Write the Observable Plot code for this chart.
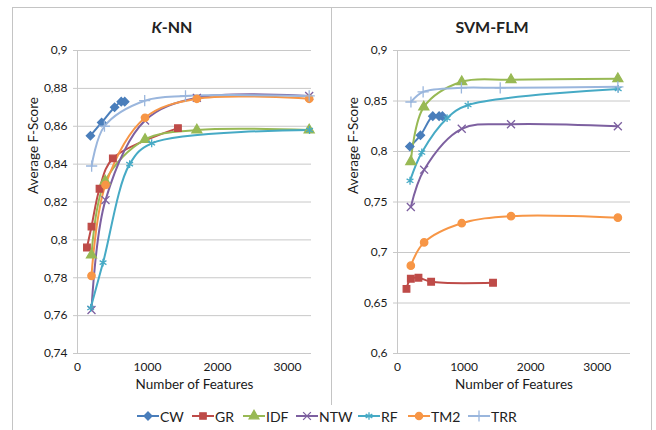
<!DOCTYPE html>
<html>
<head>
<meta charset="utf-8">
<script src="https://cdn.jsdelivr.net/npm/d3@7"></script>
<script src="https://cdn.jsdelivr.net/npm/@observablehq/plot@0.6"></script>
<style>
  html, body { margin: 0; padding: 0; background: #fff; }
  #wrap { position: relative; width: 656px; height: 430px; overflow: hidden; font-family: Lato, "Open Sans", sans-serif; color: #222; }
  .frame { position: absolute; left: 12px; top: 7px; width: 640px; height: 440px; border: 1px solid #c4c4c4; box-sizing: border-box; }
  .divider { position: absolute; left: 331px; top: 7px; width: 1px; height: 398px; background: #c4c4c4; }
  .title { position: absolute; top: 17px; font-weight: bold; font-size: 16px; text-align: center; width: 320px; }
  .panel { position: absolute; top: 0; }
  #legend { position: absolute; top: 407px; left: 0; width: 656px; height: 18px; }
  .item { position: absolute; top: 0; display: flex; align-items: center; font-size: 14px; height: 18px; }
  .item svg { margin-right: 1px; }
</style>
</head>
<body>
<div id="wrap">
  <div class="frame"></div>
  <div class="divider"></div>
  <div class="title" style="left:12px"><i>K</i>-NN</div>
  <div class="title" style="left:332px">SVM-FLM</div>
  <div class="panel" id="left" style="left:0px"></div>
  <div class="panel" id="right" style="left:330px"></div>
  <div id="legend"></div>
</div>
<script>
// ---- data ----
const seriesNames = ["CW", "GR", "IDF", "NTW", "RF", "TM2", "TRR"];

const cwFeatures  = [185, 345, 530, 625, 675];
const grFeatures  = [135, 200, 315, 505, 1435];
const idfFeatures = [200, 395, 965, 1705, 3310];
const ntwFeatures = [200, 400, 965, 1705, 3310];
const rfFeatures  = [188, 365, 745, 1060, 3315];
const tm2Features = [200, 400, 965, 1705, 3310];
const trrFeatures = [202, 385, 960, 1543, 3310];

const knnCW  = [0.855, 0.862, 0.870, 0.873, 0.873];
const knnGR  = [0.796, 0.807, 0.827, 0.843, 0.859];
const knnIDF = [0.792, 0.831, 0.853, 0.858, 0.858];
const knnNTW = [0.763, 0.821, 0.863, 0.875, 0.876];
const knnRF  = [0.764, 0.788, 0.840, 0.851, 0.858];
const knnTM2 = [0.781, 0.829, 0.8645, 0.8745, 0.8745];
const knnTRR = [0.839, 0.860, 0.8735, 0.876, 0.876];

const svmCW  = [0.805, 0.816, 0.835, 0.835, 0.835];
const svmGR  = [0.664, 0.674, 0.675, 0.671, 0.670];
const svmIDF = [0.790, 0.844, 0.869, 0.871, 0.872];
const svmNTW = [0.745, 0.782, 0.8225, 0.827, 0.825];
const svmRF  = [0.771, 0.799, 0.833, 0.846, 0.862];
const svmTM2 = [0.687, 0.710, 0.729, 0.736, 0.7345];
const svmTRR = [0.849, 0.859, 0.863, 0.863, 0.864];

const xTicks   = [0, 1000, 2000, 3000];
const knnTicks = [0.74, 0.76, 0.78, 0.80, 0.82, 0.84, 0.86, 0.88, 0.90];
const svmTicks = [0.60, 0.65, 0.70, 0.75, 0.80, 0.85, 0.90];

// ---- styles ----
const seriesColors  = ["#4a7ebb", "#be4b48", "#98b954", "#7d60a0", "#46aac5", "#f79646", "#9ab6dd"];
const seriesSymbols = ["diamond2", "square", "triangle", "times", "asterisk", "circle", "plus"];
const gridColor = "#c8c8c8";

const featureSets = [cwFeatures, grFeatures, idfFeatures, ntwFeatures, rfFeatures, tm2Features, trrFeatures];
function rows(valueSets) {
  const out = [];
  seriesNames.forEach((s, i) => {
    valueSets[i].forEach((v, j) => out.push({series: s, features: featureSets[i][j], score: v}));
  });
  return out;
}
const knnRows = rows([knnCW, knnGR, knnIDF, knnNTW, knnRF, knnTM2, knnTRR]);
const svmRows = rows([svmCW, svmGR, svmIDF, svmNTW, svmRF, svmTM2, svmTRR]);

const fmt = d => String(+d.toFixed(2)).replace(".", ",");

function chart(data, yTicks, xMax, marginLeft, width) {
  const yMin = yTicks[0], yMax = yTicks[yTicks.length - 1];
  return Plot.plot({
    width, height: 400,
    marginLeft, marginRight: 20, marginTop: 50, marginBottom: 47,
    style: {fontFamily: "Lato, 'Open Sans', sans-serif", fontSize: "12px", color: "#1a1a1a", background: "transparent", overflow: "visible"},
    x: {domain: [0, xMax]},
    y: {domain: [yMin, yMax]},
    color: {domain: seriesNames, range: seriesColors},
    symbol: {domain: seriesNames, range: seriesSymbols},
    marks: [
      Plot.gridY(yTicks, {stroke: gridColor, strokeOpacity: 1}),
      Plot.ruleX([0], {stroke: gridColor}),
      Plot.ruleY([yMin], {stroke: gridColor}),
      Plot.axisY({ticks: yTicks, tickFormat: fmt, tickSize: 4, tickPadding: 6, stroke: gridColor, label: null}),
      Plot.axisX({ticks: xTicks, tickFormat: d => String(d), tickSize: 0, tickPadding: 9, label: null}),
      Plot.text(["Number of Features"], {frameAnchor: "bottom", dy: 35, fontSize: 13.5, fill: "#1a1a1a"}),
      Plot.text(["Average F-Score"], {frameAnchor: "left", dx: -44, dy: -8, rotate: -90, fontSize: 13.5, fill: "#1a1a1a"}),
      Plot.line(data, {x: "features", y: "score", z: "series", stroke: "series", curve: "catmull-rom", strokeWidth: 2}),
      Plot.dot(data, {x: "features", y: "score", symbol: "series", fill: "series", stroke: "series", r: 3.7, strokeWidth: 1.3})
    ]
  });
}

document.getElementById("left").append(chart(knnRows, knnTicks, 3343, 77, 331));
document.getElementById("right").append(chart(svmRows, svmTicks, 3500, 67, 320));

// ---- legend ----
const legendX = [137, 192, 243, 296, 358, 408, 468];
const legend = document.getElementById("legend");
const symMap = {diamond2: d3.symbolDiamond2, square: d3.symbolSquare, triangle: d3.symbolTriangle,
  times: d3.symbolTimes, asterisk: d3.symbolAsterisk, circle: d3.symbolCircle, plus: d3.symbolPlus};
seriesNames.forEach((s, i) => {
  const item = document.createElement("div");
  item.className = "item";
  item.style.left = legendX[i] + "px";
  const svg = d3.create("svg").attr("width", 22).attr("height", 18);
  svg.append("line").attr("x1", 0).attr("x2", 22).attr("y1", 9).attr("y2", 9)
    .attr("stroke", seriesColors[i]).attr("stroke-width", 2);
  svg.append("path").attr("transform", "translate(11,9)")
    .attr("d", d3.symbol(symMap[seriesSymbols[i]], Math.PI * 3.6 * 3.6)())
    .attr("fill", seriesColors[i]).attr("stroke", seriesColors[i]).attr("stroke-width", 1.3);
  item.append(svg.node());
  const t = document.createElement("span");
  t.textContent = s;
  item.append(t);
  legend.append(item);
});
</script>
</body>
</html>
